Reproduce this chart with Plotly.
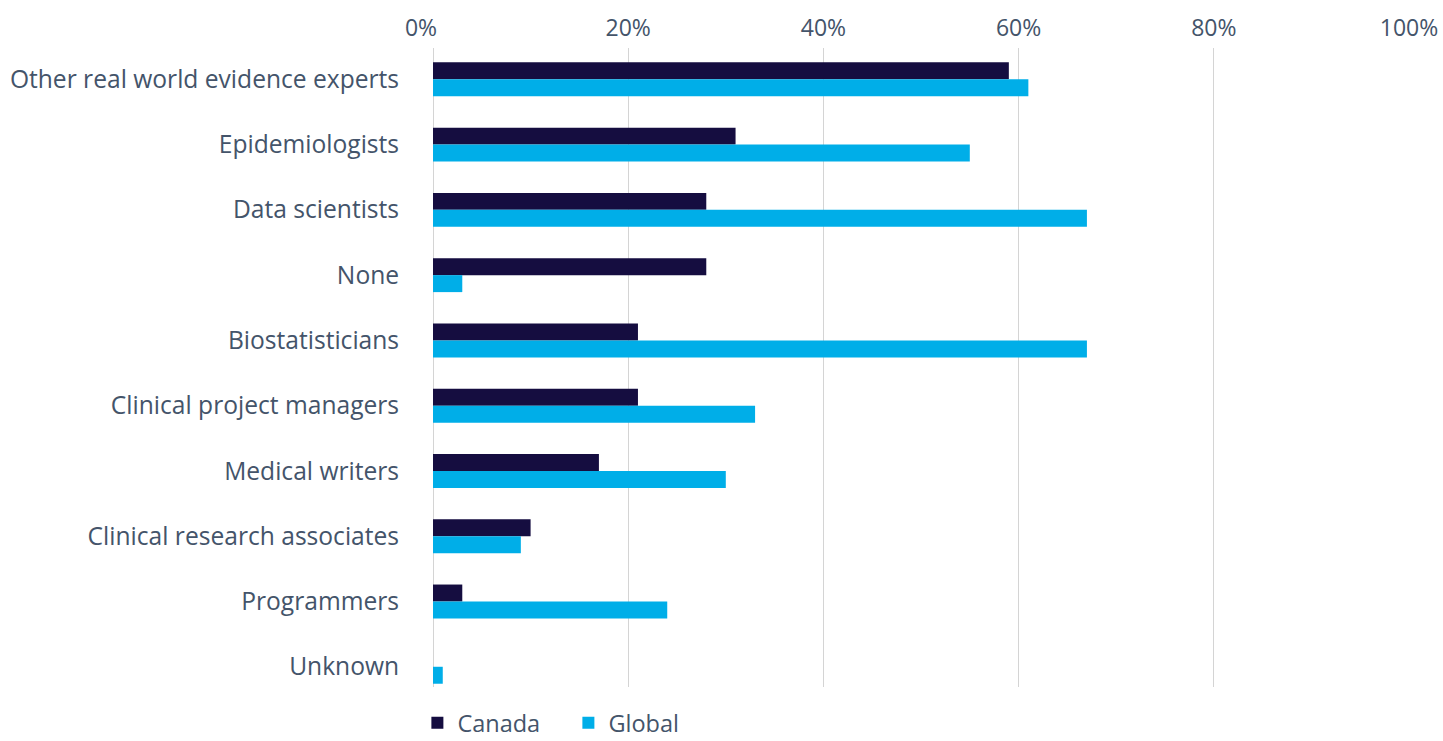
import plotly.graph_objects as go

categories = [
    "Other real world evidence experts",
    "Epidemiologists",
    "Data scientists",
    "None",
    "Biostatisticians",
    "Clinical project managers",
    "Medical writers",
    "Clinical research associates",
    "Programmers",
    "Unknown",
]
canada = [59, 31, 28, 28, 21, 21, 17, 10, 3, 0]
global_vals = [61, 55, 67, 3, 67, 33, 30, 9, 24, 1]

tick_vals = [0, 20, 40, 60, 80, 100]
tick_text = ["0%\u00a0\u00a0\u00a0\u00a0", "20%", "40%", "60%", "80%", "100%"]

TEXT = "#44546A"
FONT = "Open Sans"

fig = go.Figure()
fig.add_trace(go.Bar(y=categories, x=canada, name="Canada", orientation="h",
                     marker=dict(color="#150D40", line=dict(width=0))))
fig.add_trace(go.Bar(y=categories, x=global_vals, name="Global", orientation="h",
                     marker=dict(color="#00AEE8", line=dict(width=0))))

fig.update_layout(
    width=1443, height=741,
    margin=dict(l=433, r=34, t=48, b=54, autoexpand=False),
    paper_bgcolor="white", plot_bgcolor="white",
    barmode="group", bargap=0.48, bargroupgap=0,
    font=dict(family=FONT, size=24.6, color=TEXT),
    showlegend=True,
    legend=dict(orientation="h", x=-0.016, xanchor="left", y=-0.022, yanchor="top",
                traceorder="normal", font=dict(family=FONT, size=23.5, color=TEXT),
                itemwidth=30, entrywidth=106, bgcolor="rgba(0,0,0,0)"),
    xaxis=dict(side="top", range=[0, 100], tickvals=tick_vals, ticktext=tick_text,
               tickfont=dict(size=23),
               showgrid=True, gridcolor="#D4D4D4", gridwidth=1.3,
               zeroline=True, zerolinecolor="#D4D4D4", zerolinewidth=1.3,
               showline=False, ticks="outside", ticklen=2, tickcolor="rgba(0,0,0,0)",
               fixedrange=True),
    yaxis=dict(type="category", range=[9.31, -0.48], showgrid=False,
               ticks="outside", ticklen=28, tickcolor="rgba(0,0,0,0)",
               showline=False, zeroline=False),
)

fig.write_html("out.html")
